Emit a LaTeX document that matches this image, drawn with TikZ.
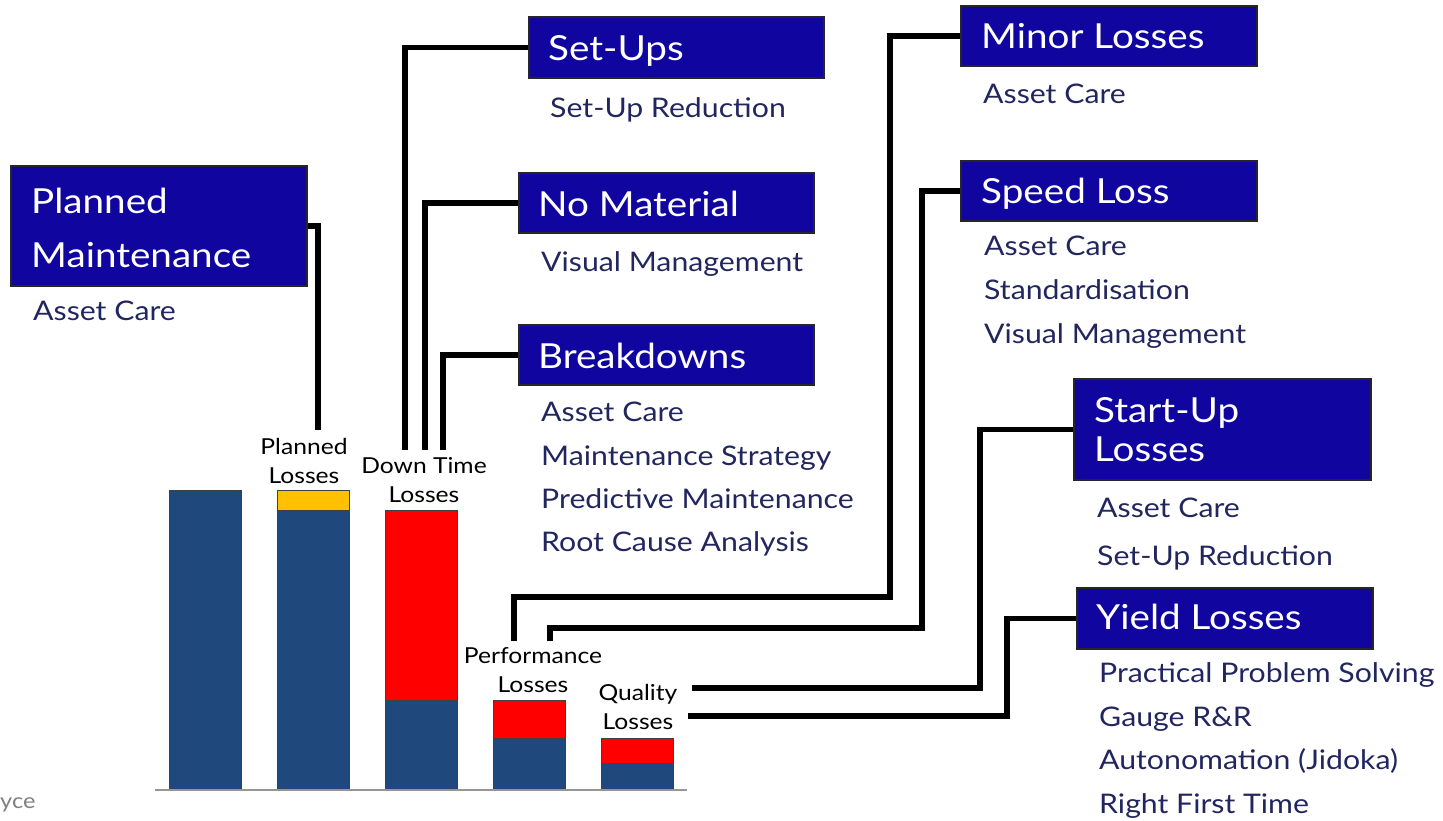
\documentclass[tikz,border=0pt]{standalone}
\usepackage{fontspec}
\setmainfont{Lato}[FakeStretch=1.12]
\newfontfamily\barfont{Lato}[FakeStretch=1.12]
\definecolor{boxblue}{RGB}{16,6,159}
\definecolor{subnavy}{RGB}{34,38,94}
\definecolor{barblue}{RGB}{31,73,125}
\definecolor{barred}{RGB}{255,0,0}
\definecolor{baryellow}{RGB}{255,192,0}
\definecolor{axisgray}{RGB}{150,150,150}
\begin{document}
\begin{tikzpicture}[x=1pt,y=-1pt,
  hbox/.style={draw=black!85, line width=2pt, fill=boxblue, anchor=north west, inner sep=0pt},
  htext/.style={text=white, anchor=base west, inner sep=0pt, font=\fontsize{34.5}{40}\selectfont},
  sub/.style={text=subnavy, anchor=base west, inner sep=0pt, font=\fontsize{27}{30}\selectfont},
  conn/.style={draw=black, line width=5.5pt},
  blbl/.style={align=center, inner sep=0pt, font=\barfont\fontsize{22}{28.5}\selectfont},
  seg/.style={draw=black!75, line width=0.8pt}]
\useasboundingbox (0,0) rectangle (1443,820);

% ---- bar chart ----
\draw[seg, fill=barblue] (169,490) rectangle (241,790);
\draw[seg, fill=baryellow] (277,490) rectangle (349,510);
\draw[seg, fill=barblue] (277,510) rectangle (349,790);
\draw[seg, fill=barred] (385,510) rectangle (457,700);
\draw[seg, fill=barblue] (385,700) rectangle (457,790);
\draw[seg, fill=barred] (493,700) rectangle (565,738);
\draw[seg, fill=barblue] (493,738) rectangle (565,790);
\draw[seg, fill=barred] (601,738) rectangle (673,763);
\draw[seg, fill=barblue] (601,763) rectangle (673,790);
\draw[axisgray, line width=1.5pt] (155,790) -- (687,790);

\node[blbl, anchor=base] (plbl) at (304,483) {Planned\\Losses};
\node[blbl, anchor=base] (dlbl) at (424,502) {Down Time\\Losses};
\node[blbl, anchor=base] (perflbl) at (533,692) {Performance\\Losses};
\node[blbl, anchor=base] (qlbl) at (638,729) {Quality\\Losses};

\node[text=gray, anchor=base west, inner sep=0pt, font=\fontsize{21}{24}\selectfont] (src) at (0,808) {yce};

% ---- loss category boxes ----
\node[hbox, minimum width=296pt, minimum height=120pt] (pm) at (10,165) {};
\node[htext] at (31,213) {Planned};
\node[htext] at (31,267) {Maintenance};
\node[sub] at (33,320) {Asset Care};

\node[hbox, minimum width=295pt, minimum height=61pt] (su) at (528,16) {};
\node[htext] at (548,60) {Set-Ups};
\node[sub] at (550,117) {Set-Up Reduction};

\node[hbox, minimum width=295pt, minimum height=60pt] (nm) at (518,172) {};
\node[htext] at (538,216) {No Material};
\node[sub] at (541,271) {Visual Management};

\node[hbox, minimum width=295pt, minimum height=60pt] (bd) at (518,324) {};
\node[htext] at (538,368) {Breakdowns};
\node[sub] at (541,421) {Asset Care};
\node[sub] at (541,465) {Maintenance Strategy};
\node[sub] at (541,508) {Predictive Maintenance};
\node[sub] at (541,551) {Root Cause Analysis};

\node[hbox, minimum width=296pt, minimum height=60pt] (ml) at (960,5) {};
\node[htext] at (981,48) {Minor Losses};
\node[sub] at (983,103) {Asset Care};

\node[hbox, minimum width=296pt, minimum height=60pt] (sl) at (960,160) {};
\node[htext] at (981,203) {Speed Loss};
\node[sub] at (984,255) {Asset Care};
\node[sub] at (984,299) {Standardisation};
\node[sub] at (984,343) {Visual Management};

\node[hbox, minimum width=297pt, minimum height=101pt] (st) at (1073,378) {};
\node[htext] at (1094,422) {Start-Up};
\node[htext] at (1094,461) {Losses};
\node[sub] at (1097,517) {Asset Care};
\node[sub] at (1097,565) {Set-Up Reduction};

\node[hbox, minimum width=296pt, minimum height=61pt] (yl) at (1076,587) {};
\node[htext] at (1096,629) {Yield Losses};
\node[sub] at (1099,682) {Practical Problem Solving};
\node[sub] at (1099,726) {Gauge R\&R};
\node[sub] at (1099,769) {Autonomation (Jidoka)};
\node[sub] at (1099,813) {Right First Time};

% ---- connector end points above / beside the bar labels ----
\coordinate (pmEnd) at (318,430);
\coordinate (suEnd) at (405,450);
\coordinate (nmEnd) at (425,450);
\coordinate (bdEnd) at (443,450);
\coordinate (mlEnd) at (514,641);
\coordinate (slEnd) at (550,641);
\coordinate (stEnd) at (692,688);
\coordinate (ylEnd) at (688,716);

% ---- connectors ----
\draw[conn] (pm.east) -| (pmEnd);
\draw[conn] (su.west) -| (suEnd);
\draw[conn] (nm.west) -| (nmEnd);
\draw[conn] (bd.west) -| (bdEnd);
\draw[conn] (ml.west) -| (890,597) -| (mlEnd);
\draw[conn] (sl.west) -| (922,628) -| (slEnd);
\draw[conn] (st.west) -| (980,688) -- (stEnd);
\draw[conn] (yl.west) -| (1007,716) -- (ylEnd);
\end{tikzpicture}
\end{document}
